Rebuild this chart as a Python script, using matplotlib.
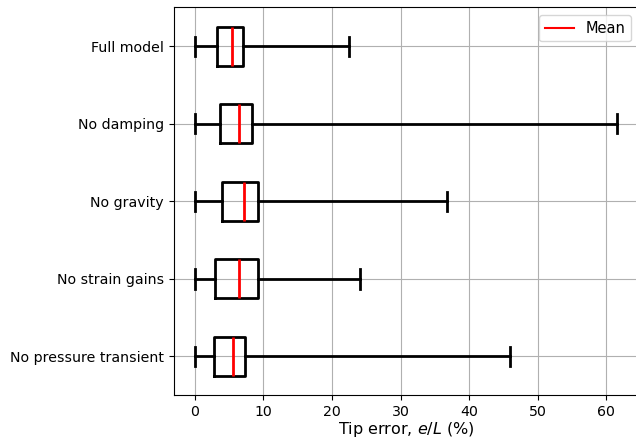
import matplotlib
matplotlib.use("Agg")
import matplotlib.pyplot as plt
from matplotlib.lines import Line2D

# top to bottom as shown in the figure
labels = ["Full model", "No damping", "No gravity", "No strain gains",
          "No pressure transient"]
mins = [0.0, 0.0, 0.0, 0.0, 0.0]
q1 = [3.2, 3.7, 3.9, 2.9, 2.8]
q3 = [7.05, 8.3, 9.2, 9.2, 7.3]
means = [5.5, 6.5, 7.2, 6.5, 5.6]
maxs = [22.45, 61.6, 36.8, 24.1, 46.0]

stats = []
for lab, lo, a, b, m, hi in zip(labels, mins, q1, q3, means, maxs):
    stats.append(dict(label=lab, whislo=lo, q1=a, med=m, q3=b,
                      whishi=hi, mean=m, fliers=[]))
stats = stats[::-1]  # boxplot draws first entry at the bottom

fig = plt.figure(figsize=(6.36, 4.41), dpi=100)
ax = fig.add_axes([0.273, 0.104, 0.731, 0.879])

lp = dict(color="black", linewidth=2)
ax.bxp(stats, vert=False, showmeans=True, meanline=True, showfliers=False,
       boxprops=lp, whiskerprops=lp, capprops=lp,
       medianprops=dict(linewidth=0),
       meanprops=dict(color="red", linestyle="-", linewidth=2))

ax.grid(True)
ax.set_axisbelow(True)
ax.set_xlabel("Tip error, $e/L$ (%)", fontsize=11.5, labelpad=1)
ax.tick_params(axis="both", labelsize=10.2)
ax.legend(handles=[Line2D([], [], color="red", label="Mean")],
          loc="upper right", fontsize=10.5)

fig.savefig("out.png", dpi=100)
